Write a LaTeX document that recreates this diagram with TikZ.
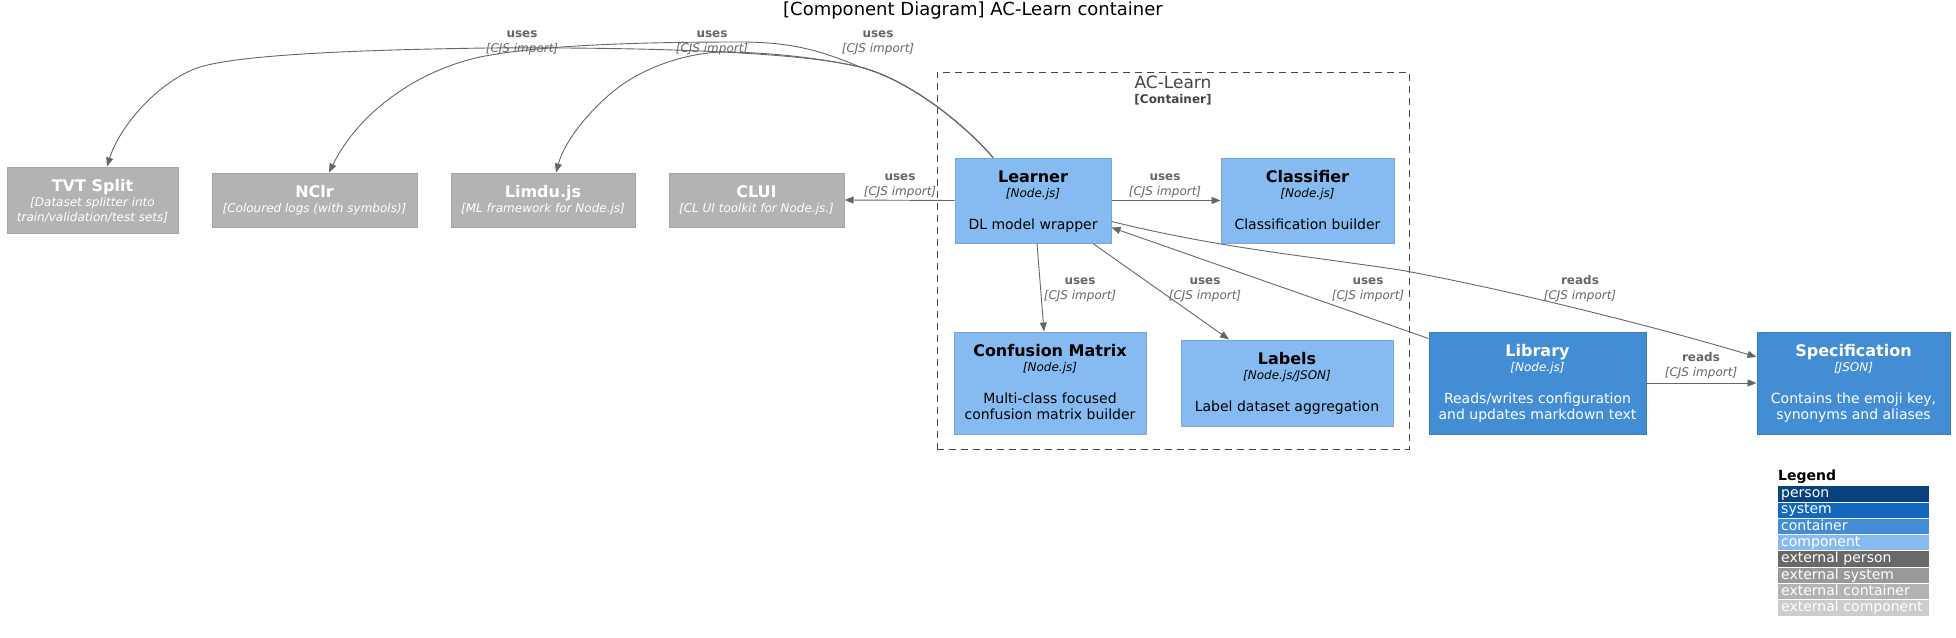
\documentclass[tikz,border=0pt]{standalone}
\usepackage{fontspec}
\setmainfont{DejaVu Sans}
\usepackage{tikz}
\usetikzlibrary{arrows.meta,positioning,calc}
\definecolor{compfill}{HTML}{85BBF0}
\definecolor{compline}{HTML}{78A8D8}
\definecolor{contfill}{HTML}{438DD5}
\definecolor{contline}{HTML}{3C7FC0}
\definecolor{extfill}{HTML}{B3B3B3}
\definecolor{extline}{HTML}{A6A6A6}
\definecolor{relgray}{HTML}{666666}
\definecolor{bndgray}{HTML}{444444}
\definecolor{lperson}{HTML}{08427B}
\definecolor{lsystem}{HTML}{1168BD}
\definecolor{lcontainer}{HTML}{438DD5}
\definecolor{lcomponent}{HTML}{85BBF0}
\definecolor{lextperson}{HTML}{686868}
\definecolor{lextsystem}{HTML}{999999}
\definecolor{lextcontainer}{HTML}{B3B3B3}
\definecolor{lextcomponent}{HTML}{CCCCCC}
\tikzset{
  box/.style = {draw, inner sep=0pt, line width=1pt},
  comp/.style = {box, fill=compfill, draw=compline},% component
  cont/.style = {box, fill=contfill, draw=contline},% container
  ext/.style = {box, fill=extfill, draw=extline},% external component
  ttl/.style = {inner sep=0pt, anchor=base, font=\bfseries\fontsize{16}{19}\selectfont},
  tech/.style = {inner sep=0pt, anchor=base, font=\itshape\fontsize{12}{15}\selectfont},
  desc/.style = {inner sep=0pt, anchor=base, font=\fontsize{14}{16}\selectfont},
  rel/.style = {->, draw=relgray, line width=0.9pt},
  rellabel/.style = {inner sep=0pt, text=relgray, font=\fontsize{12}{15}\selectfont},
  legrow/.style = {anchor=north west, inner xsep=3pt, inner ysep=0pt, text width=145pt,
    align=left, minimum height=15.3pt, text height=10.5pt, text depth=3pt, text=white,
    font=\fontsize{14}{16}\selectfont},
}
\newcommand\stack[1]{\begin{tabular}[t]{@{}c@{}}#1\end{tabular}}
\newcommand\uselabel[1]{\stack{\textbf{#1}\\\textit{[CJS import]}}}
% title, technology and description inside a box
\newcommand\boxtext[5][black]{%
  \node[ttl, text=#1] (#2-title) at ([yshift=-25pt]#2.north) {#3};
  \node[tech, text=#1] (#2-tech) at ([yshift=-39.5pt]#2.north) {#4};
  \node[desc, text=#1] (#2-desc) at ([yshift=-72pt]#2.north) {\stack{#5}};}
\newcommand\exttext[3]{%
  \node[ttl, text=white] (#1-title) at ([yshift=-25pt]#1.north) {#2};
  \node[tech, text=white] (#1-tech) at ([yshift=-39.5pt]#1.north) {\stack{#3}};}

\begin{document}
\begin{tikzpicture}[x=1pt, y=-1pt, >={Triangle[length=9pt,width=7pt]}]
\useasboundingbox (0,0) rectangle (1956,637);

\node[font=\fontsize{18}{22}\selectfont] (title) at (973,11) {[Component Diagram] AC-Learn container};

% container boundary
\node[draw=bndgray, dash pattern=on 7pt off 5pt, line width=0.9pt, minimum width=472pt,
  minimum height=377pt, inner sep=0pt] (aclearn) at (1173,260.5) {};
\node[text=bndgray, inner sep=0pt, font=\fontsize{17}{20}\selectfont] (aclearn-name) at ([yshift=-11pt]aclearn.north) {AC-Learn};
\node[text=bndgray, inner sep=0pt, font=\bfseries\fontsize{12}{14}\selectfont] (aclearn-type) at ([yshift=-28pt]aclearn.north) {[Container]};

% external components
\node[ext, minimum width=171pt, minimum height=66pt] (tvt) at (92.5,200) {};
\node[ext, minimum width=205pt, minimum height=54pt] (nclr) at (314.5,200) {};
\node[ext, minimum width=184pt, minimum height=54pt] (limdu) at (543,200) {};
\node[ext, minimum width=175pt, minimum height=54pt] (clui) at (756.5,200) {};
\exttext{tvt}{TVT Split}{[Dataset splitter into\\train/validation/test sets]}
\exttext{nclr}{NClr}{[Coloured logs (with symbols)]}
\exttext{limdu}{Limdu.js}{[ML framework for Node.js]}
\exttext{clui}{CLUI}{[CL UI toolkit for Node.js.]}

% components
\node[comp, minimum width=156pt, minimum height=85pt] (learner) at (1033,200.5) {};
\node[comp, minimum width=173pt, minimum height=85pt] (classifier) at (1307.5,200.5) {};
\node[comp, minimum width=192pt, minimum height=102pt] (confusion) at (1050,383) {};
\node[comp, minimum width=212pt, minimum height=86pt] (labels) at (1287,383) {};
\node[cont, minimum width=217pt, minimum height=102pt] (library) at (1537.5,383) {};
\node[cont, minimum width=193pt, minimum height=102pt] (spec) at (1853.5,383) {};
\boxtext{learner}{Learner}{[Node.js]}{DL model wrapper}
\boxtext{classifier}{Classifier}{[Node.js]}{Classification builder}
\boxtext{confusion}{Confusion Matrix}{[Node.js]}{Multi-class focused\\confusion matrix builder}
\boxtext{labels}{Labels}{[Node.js/JSON]}{Label dataset aggregation}
\boxtext[white]{library}{Library}{[Node.js]}{Reads/writes configuration\\and updates markdown text}
\boxtext[white]{spec}{Specification}{[JSON]}{Contains the emoji key,\\synonyms and aliases}

% relations
\draw[rel] (learner.west) -- (clui.east);
\draw[rel] (learner.east) -- (classifier.west);
\draw[rel] ([xshift=4pt]learner.south) -- ([xshift=-6pt]confusion.north);
\draw[rel] ([xshift=60pt]learner.south) -- ([xshift=-58pt]labels.north);
\draw[rel] ([yshift=-7pt]library.north west) -- ([yshift=-27pt]learner.east);
\draw[rel] (library.east) -- (spec.west);
\draw[rel] ([yshift=-21pt]learner.east) .. controls (1220,248) and (1300,255) .. (1400,270)
  .. controls (1500,288) and (1650,325) .. ([yshift=26pt]spec.west);
\coordinate (fork) at (860,67);
\draw[rel] ([xshift=-40pt]learner.north) .. controls (965,125) and (910,80) .. (fork)
  .. controls (800,52) and (650,47) .. (487,48) .. controls (350,50) and (240,55) .. (200,67)
  .. controls (160,80) and (120,125) .. ([xshift=14.5pt]tvt.north);
\draw[rel] ([xshift=-40pt]learner.north) .. controls (965,125) and (910,80) .. (fork)
  .. controls (820,50) and (790,42) .. (740,42) .. controls (640,42) and (540,45) .. (480,57)
  .. controls (420,70) and (360,110) .. ([xshift=14.5pt]nclr.north);
\draw[rel] ([xshift=-40pt]learner.north) .. controls (965,125) and (910,80) .. (fork)
  .. controls (810,56) and (760,52) .. (720,52) .. controls (680,54) and (640,70) .. (615,90)
  .. controls (590,110) and (565,140) .. ([xshift=13pt]limdu.north);

% relation labels
\node[rellabel] (l-tvt) at (522,41.8) {\uselabel{uses}};
\node[rellabel] (l-nclr) at (712,41.8) {\uselabel{uses}};
\node[rellabel] (l-limdu) at (878,41.8) {\uselabel{uses}};
\node[rellabel] (l-clui) at (900,184.8) {\uselabel{uses}};
\node[rellabel] (l-classifier) at (1165,184.8) {\uselabel{uses}};
\node[rellabel] (l-confusion) at (1080,288.8) {\uselabel{uses}};
\node[rellabel] (l-labels) at (1205,288.8) {\uselabel{uses}};
\node[rellabel] (l-library) at (1368,288.8) {\uselabel{uses}};
\node[rellabel] (l-spec) at (1580,288.8) {\uselabel{reads}};
\node[rellabel] (l-libspec) at (1701,365.8) {\uselabel{reads}};

% legend
\node[anchor=west, inner sep=0pt, font=\bfseries\fontsize{14}{16}\selectfont] (legend) at (1778,477) {Legend};
\foreach \name/\col [count=\i from 0] in {person/lperson, system/lsystem, container/lcontainer,
  component/lcomponent, external person/lextperson, external system/lextsystem,
  external container/lextcontainer, external component/lextcomponent}
  \node[legrow, fill=\col] (leg-\i) at (1778,{486+\i*16.3}) {\name};
\end{tikzpicture}
\end{document}
